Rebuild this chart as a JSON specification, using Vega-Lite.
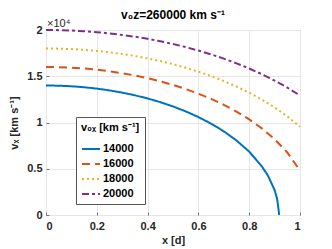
{
  "$schema": "https://vega.github.io/schema/vega-lite/v6.json",
  "width": 254,
  "height": 185,
  "autosize": {"type": "none"},
  "padding": {"left": 46, "top": 30, "right": 32, "bottom": 34},
  "background": "white",
  "title": {"text": "v₀z=260000 km s⁻¹", "fontSize": 12, "fontWeight": "bold", "color": "#000", "offset": -4, "font": "Liberation Sans"},
  "config": {
    "font": "Liberation Sans",
    "view": {"stroke": "#777", "strokeWidth": 1},
    "axis": {
      "labelFontSize": 11, "labelFontWeight": "bold", "labelColor": "#262626",
      "titleFontSize": 11, "titleFontWeight": "bold", "titleColor": "#262626",
      "gridColor": "#e6e6e6", "domain": false, "tickColor": "#777", "tickSize": -3
    },
    "legend": {
      "orient": "none", "legendX": 30, "legendY": 87,
      "strokeColor": "#555", "fillColor": "white", "padding": 5,
      "symbolType": "stroke", "symbolSize": 324, "symbolStrokeWidth": 2,
      "titleFontSize": 11, "titleFontWeight": "bold", "titleColor": "#000",
      "labelFontSize": 11, "labelFontWeight": "bold", "labelColor": "#000",
      "rowPadding": -5, "titlePadding": 6, "labelOffset": 2
    }
  },
  "layer": [
    {
      "data": {"values": [
        {"x":0,"v":14000,"s":"14000"},{"x":0.05,"v":13979,"s":"14000"},{"x":0.1,"v":13917,"s":"14000"},{"x":0.15,"v":13812,"s":"14000"},{"x":0.2,"v":13663,"s":"14000"},{"x":0.25,"v":13470,"s":"14000"},{"x":0.3,"v":13230,"s":"14000"},{"x":0.35,"v":12941,"s":"14000"},{"x":0.4,"v":12598,"s":"14000"},{"x":0.45,"v":12199,"s":"14000"},{"x":0.5,"v":11737,"s":"14000"},{"x":0.55,"v":11204,"s":"14000"},{"x":0.6,"v":10589,"s":"14000"},{"x":0.65,"v":9877,"s":"14000"},{"x":0.7,"v":9046,"s":"14000"},{"x":0.75,"v":8058,"s":"14000"},{"x":0.8,"v":6847,"s":"14000"},{"x":0.85,"v":5259,"s":"14000"},{"x":0.875,"v":4196,"s":"14000"},{"x":0.9,"v":2696,"s":"14000"},{"x":0.91,"v":1747,"s":"14000"},{"x":0.917,"v":270,"s":"14000"},{"x":0.9172,"v":0,"s":"14000"},
        {"x":0,"v":16000,"s":"16000"},{"x":0.05,"v":15982,"s":"16000"},{"x":0.1,"v":15927,"s":"16000"},{"x":0.15,"v":15835,"s":"16000"},{"x":0.2,"v":15706,"s":"16000"},{"x":0.25,"v":15538,"s":"16000"},{"x":0.3,"v":15331,"s":"16000"},{"x":0.35,"v":15082,"s":"16000"},{"x":0.4,"v":14789,"s":"16000"},{"x":0.45,"v":14451,"s":"16000"},{"x":0.5,"v":14062,"s":"16000"},{"x":0.55,"v":13621,"s":"16000"},{"x":0.6,"v":13120,"s":"16000"},{"x":0.65,"v":12552,"s":"16000"},{"x":0.7,"v":11909,"s":"16000"},{"x":0.75,"v":11178,"s":"16000"},{"x":0.8,"v":10338,"s":"16000"},{"x":0.85,"v":9363,"s":"16000"},{"x":0.9,"v":8202,"s":"16000"},{"x":0.95,"v":6762,"s":"16000"},{"x":1,"v":4796,"s":"16000"},
        {"x":0,"v":18000,"s":"18000"},{"x":0.05,"v":17984,"s":"18000"},{"x":0.1,"v":17935,"s":"18000"},{"x":0.15,"v":17854,"s":"18000"},{"x":0.2,"v":17739,"s":"18000"},{"x":0.25,"v":17591,"s":"18000"},{"x":0.3,"v":17408,"s":"18000"},{"x":0.35,"v":17189,"s":"18000"},{"x":0.4,"v":16933,"s":"18000"},{"x":0.45,"v":16638,"s":"18000"},{"x":0.5,"v":16302,"s":"18000"},{"x":0.55,"v":15922,"s":"18000"},{"x":0.6,"v":15496,"s":"18000"},{"x":0.65,"v":15019,"s":"18000"},{"x":0.7,"v":14486,"s":"18000"},{"x":0.75,"v":13890,"s":"18000"},{"x":0.8,"v":13224,"s":"18000"},{"x":0.85,"v":12476,"s":"18000"},{"x":0.9,"v":11631,"s":"18000"},{"x":0.95,"v":10664,"s":"18000"},{"x":1,"v":9539,"s":"18000"},
        {"x":0,"v":20000,"s":"20000"},{"x":0.05,"v":19985,"s":"20000"},{"x":0.1,"v":19942,"s":"20000"},{"x":0.15,"v":19869,"s":"20000"},{"x":0.2,"v":19766,"s":"20000"},{"x":0.25,"v":19633,"s":"20000"},{"x":0.3,"v":19469,"s":"20000"},{"x":0.35,"v":19273,"s":"20000"},{"x":0.4,"v":19045,"s":"20000"},{"x":0.45,"v":18783,"s":"20000"},{"x":0.5,"v":18487,"s":"20000"},{"x":0.55,"v":18153,"s":"20000"},{"x":0.6,"v":17780,"s":"20000"},{"x":0.65,"v":17365,"s":"20000"},{"x":0.7,"v":16907,"s":"20000"},{"x":0.75,"v":16399,"s":"20000"},{"x":0.8,"v":15839,"s":"20000"},{"x":0.85,"v":15220,"s":"20000"},{"x":0.9,"v":14535,"s":"20000"},{"x":0.95,"v":13774,"s":"20000"},{"x":1,"v":12923,"s":"20000"}
      ]},
      "mark": {"type": "line", "strokeWidth": 2, "strokeCap": "butt", "clip": false},
      "encoding": {
        "x": {"field": "x", "type": "quantitative", "scale": {"domain": [0, 1], "nice": false},
              "axis": {"values": [0, 0.2, 0.4, 0.6, 0.8, 1], "format": "~g", "title": "x [d]", "titlePadding": 3, "labelPadding": 8}},
        "y": {"field": "v", "type": "quantitative", "scale": {"domain": [0, 20000], "nice": false},
              "axis": {"values": [0, 5000, 10000, 15000, 20000], "labelExpr": "format(datum.value/10000,'~g')", "title": "vₓ [km s⁻¹]", "titlePadding": 7, "labelPadding": 7}},
        "color": {"field": "s", "type": "nominal", "scale": {"domain": ["14000","16000","18000","20000"], "range": ["#0072BD","#D95319","#EDB120","#7E2F8E"]},
                  "legend": {"title": "v₀ₓ [km s⁻¹]"}},
        "strokeDash": {"field": "s", "type": "nominal", "scale": {"domain": ["14000","16000","18000","20000"], "range": [[1,0],[8,5],[2,3],[7,3,3,3]]},
                  "legend": {"title": "v₀ₓ [km s⁻¹]"}}
      }
    },
    {
      "data": {"values": [{"t": "×10⁴"}]},
      "mark": {"type": "text", "align": "left", "baseline": "bottom", "dy": -1, "dx": 1, "fontSize": 11, "color": "#262626"},
      "encoding": {
        "x": {"datum": 0, "type": "quantitative"},
        "y": {"datum": 20000, "type": "quantitative"},
        "text": {"field": "t", "type": "nominal"}
      }
    }
  ]
}
